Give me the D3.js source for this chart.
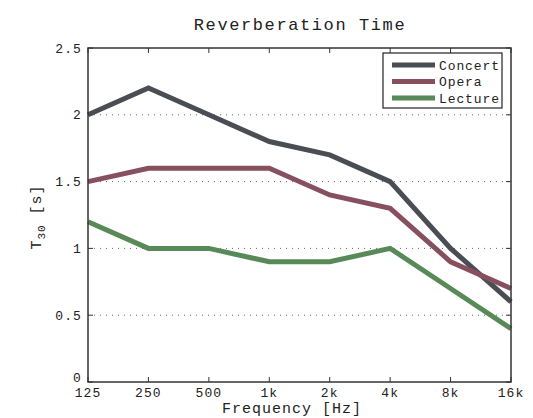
<!DOCTYPE html>
<html>
<head>
<meta charset="utf-8">
<script src="https://cdn.jsdelivr.net/npm/d3@7"></script>
<style>
  body { margin: 0; background: #fff; }
  text { font-family: "Liberation Mono", "Courier New", monospace; fill: #222; }
</style>
</head>
<body>
<div id="chart"></div>
<script>
const freqs = ['125', '250', '500', '1k', '2k', '4k', '8k', '16k'];
const concert = [2.0, 2.2, 2.0, 1.8, 1.7, 1.5, 1.0, 0.6];
const opera = [1.5, 1.6, 1.6, 1.6, 1.4, 1.3, 0.9, 0.7];
const lecture = [1.2, 1.0, 1.0, 0.9, 0.9, 1.0, 0.7, 0.4];
const yTicks = [0, 0.5, 1, 1.5, 2, 2.5];
const seriesNames = ['Concert', 'Opera', 'Lecture'];
const seriesColors = ['#4a4e54', '#86505f', '#588a58'];

const width = 533, height = 418;
const margin = {top: 48, right: 22, bottom: 36, left: 88};
const innerW = width - margin.left - margin.right;
const innerH = height - margin.top - margin.bottom;

const svg = d3.select('#chart').append('svg')
    .attr('width', width)
    .attr('height', height);

const x = d3.scalePoint().domain(freqs).range([0, innerW]);
const y = d3.scaleLinear().domain([0, 2.5]).range([innerH, 0]);

const g = svg.append('g')
    .attr('transform', `translate(${margin.left},${margin.top})`);

// dotted grid
g.selectAll('.grid').data(yTicks.filter(d => d > 0 && d < 2.5)).enter()
    .append('line')
    .attr('x1', 0).attr('x2', innerW)
    .attr('y1', d => y(d)).attr('y2', d => y(d))
    .attr('stroke', '#666')
    .attr('stroke-width', 1)
    .attr('stroke-dasharray', '1,5');

// ticks inside on all four sides
const tickLen = 5;
g.selectAll('.xtb').data(freqs).enter().append('line')
    .attr('x1', d => x(d)).attr('x2', d => x(d))
    .attr('y1', innerH).attr('y2', innerH - tickLen)
    .attr('stroke', '#333');
g.selectAll('.xtt').data(freqs).enter().append('line')
    .attr('x1', d => x(d)).attr('x2', d => x(d))
    .attr('y1', 0).attr('y2', tickLen)
    .attr('stroke', '#333');
g.selectAll('.ytl').data(yTicks).enter().append('line')
    .attr('x1', 0).attr('x2', tickLen)
    .attr('y1', d => y(d)).attr('y2', d => y(d))
    .attr('stroke', '#333');
g.selectAll('.ytr').data(yTicks).enter().append('line')
    .attr('x1', innerW).attr('x2', innerW - tickLen)
    .attr('y1', d => y(d)).attr('y2', d => y(d))
    .attr('stroke', '#333');

// tick labels
g.selectAll('.xl').data(freqs).enter().append('text')
    .attr('x', d => x(d))
    .attr('y', innerH + 15)
    .attr('text-anchor', 'middle')
    .attr('font-size', '13px')
    .attr('letter-spacing', '1.1px')
    .text(d => d);
g.selectAll('.yl').data(yTicks).enter().append('text')
    .attr('x', -6)
    .attr('y', d => y(d) - (d === 0 ? 5 : 0))
    .attr('dy', '0.35em')
    .attr('text-anchor', 'end')
    .attr('font-size', '13px')
    .attr('letter-spacing', '1.1px')
    .text(d => d);

// lines
const allSeries = [concert, opera, lecture];
const lineGen = d3.line()
    .x((d, i) => x(freqs[i]))
    .y(d => y(d));
g.selectAll('.series').data(allSeries).enter().append('path')
    .attr('d', lineGen)
    .attr('fill', 'none')
    .attr('stroke', (d, i) => seriesColors[i])
    .attr('stroke-width', 5)
    .attr('stroke-linejoin', 'miter');

// frame
g.append('rect')
    .attr('width', innerW).attr('height', innerH)
    .attr('fill', 'none')
    .attr('stroke', '#333')
    .attr('stroke-width', 1.5);

// legend
const legend = g.append('g').attr('transform', `translate(${383 - margin.left},${53 - margin.top})`);
legend.append('rect')
    .attr('width', 119).attr('height', 55)
    .attr('fill', '#fff')
    .attr('stroke', '#222')
    .attr('stroke-width', 1.2);
seriesNames.forEach((name, i) => {
    const ly = 12 + i * 16.5;
    legend.append('line')
        .attr('x1', 9).attr('x2', 52)
        .attr('y1', ly).attr('y2', ly)
        .attr('stroke', seriesColors[i])
        .attr('stroke-width', 5);
    legend.append('text')
        .attr('x', 56).attr('y', ly)
        .attr('dy', '0.35em')
        .attr('font-size', '13px')
        .attr('letter-spacing', '0.9px')
        .text(name);
});

// title and axis labels
svg.append('text')
    .attr('x', 300).attr('y', 30)
    .attr('text-anchor', 'middle')
    .attr('font-size', '17px')
    .attr('letter-spacing', '1.6px')
    .text('Reverberation Time');

svg.append('text')
    .attr('x', 292).attr('y', 413)
    .attr('text-anchor', 'middle')
    .attr('font-size', '15px')
    .attr('letter-spacing', '1px')
    .text('Frequency [Hz]');

const yl = svg.append('text')
    .attr('transform', 'translate(41,217) rotate(-90)')
    .attr('text-anchor', 'middle')
    .attr('font-size', '15px')
    .attr('letter-spacing', '1px');
yl.append('tspan').text('T');
yl.append('tspan').attr('font-size', '11px').attr('dy', '4').text('30');
yl.append('tspan').attr('dy', '-4').text(' [s]');
</script>
</body>
</html>
